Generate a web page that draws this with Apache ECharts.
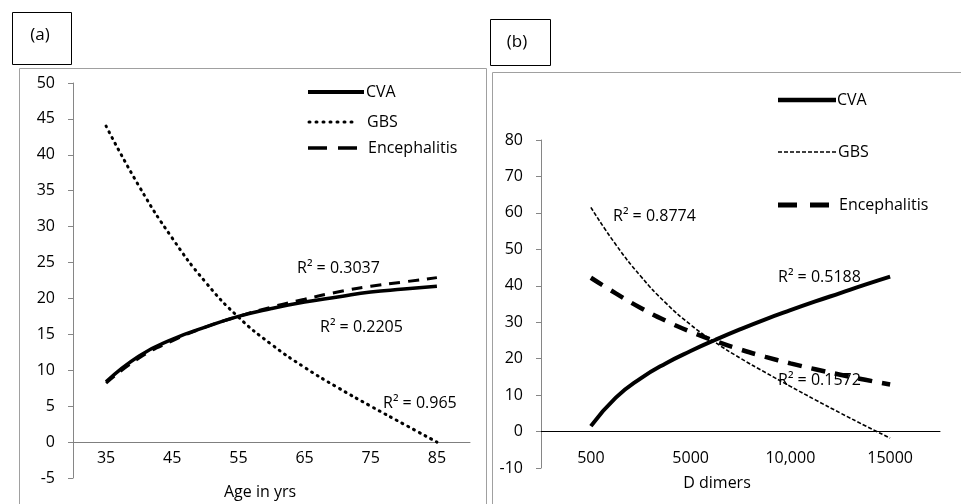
<!DOCTYPE html>
<html>
<head>
<meta charset="utf-8">
<script src="https://cdn.jsdelivr.net/npm/echarts@6/dist/echarts.min.js"></script>
<style>
html, body { margin:0; padding:0; background:#fff; }
#chartA { position:absolute; left:0; top:0; width:490px; height:504px; }
#chartB { position:absolute; left:480px; top:0; width:481px; height:504px; }
</style>
</head>
<body>
<div id="chartA"></div>
<div id="chartB"></div>
<script>
// panel (a): age
var ageLabels = ['35', '45', '55', '65', '75', '85'];
var ageX   = [35, 40, 45, 50, 55, 60, 65, 70, 75, 80, 85];
var cvaAge = [8.4, 12.0, 14.3, 16.0, 17.5, 18.6, 19.5, 20.2, 20.9, 21.3, 21.7];
var gbsAge = [44.0, 35.6, 28.4, 22.3, 17.4, 13.6, 10.4, 7.6, 5.0, 2.5, 0];
var encAge = [8.2, 11.7, 14.1, 16.0, 17.5, 18.8, 19.9, 20.9, 21.7, 22.3, 22.9];
var r2Age  = ['R\u00b2 = 0.3037', 'R\u00b2 = 0.2205', 'R\u00b2 = 0.965'];

// panel (b): D dimers (x = category position)
var ddLabels = ['500', '5000', '10,000', '15000'];
var ddX   = [1, 1.25, 1.5, 1.75, 2, 2.25, 2.5, 2.75, 3, 3.25, 3.5, 3.75, 4];
var cvaDD = [1.5, 9.3, 14.6, 18.7, 22.1, 25.2, 28.1, 30.8, 33.3, 35.7, 38.0, 40.3, 42.5];
var gbsDD = [61.5, 51.3, 42.6, 35.3, 29.3, 24.4, 20.1, 16.2, 12.4, 8.7, 5.1, 1.6, -1.8];
var encDD = [42.2, 37.9, 33.9, 30.4, 27.4, 24.8, 22.5, 20.5, 18.7, 17.1, 15.6, 14.2, 12.9];
var r2DD  = ['R\u00b2 = 0.8774', 'R\u00b2 = 0.5188', 'R\u00b2 = 0.1572'];

var names = ['CVA', 'GBS', 'Encephalitis'];
var FONT = '"Open Sans", "Liberation Sans", sans-serif';

// line styles per panel
var styleA = [
    { width: 3.5, type: 'solid' },
    { width: 3, type: [1, 5.5], cap: 'round' },
    { width: 3, type: [11, 8] }
];
var styleB = [
    { width: 4, type: 'solid' },
    { width: 1.6, type: [4, 2] },
    { width: 4.5, type: [14, 10] }
];

function pairs(xs, ys) {
    return xs.map(function (x, i) { return [x, ys[i]]; });
}

function curve(name, xs, ys, style) {
    return {
        name: name, type: 'line', xAxisIndex: 1, yAxisIndex: 0,
        data: pairs(xs, ys), symbol: 'none', smooth: true, silent: true,
        itemStyle: { color: '#000' },
        lineStyle: Object.assign({ color: '#000' }, style)
    };
}

function txt(x, y, text, size, align) {
    return {
        type: 'text', x: x, y: y, z: 10,
        style: { text: text, fill: '#000', fontSize: size || 16, fontFamily: FONT,
                 align: align || 'left', verticalAlign: 'middle' }
    };
}

// legend swatch drawn by hand (the built-in legend thins the lines)
function swatch(x1, x2, y, width, dash, cap) {
    return {
        type: 'line', z: 10,
        shape: { x1: x1, y1: y, x2: x2, y2: y },
        style: { stroke: '#000', lineWidth: width, lineDash: dash || null, lineCap: cap || 'butt' }
    };
}

var chartA = echarts.init(document.getElementById('chartA'));
chartA.setOption({
    animation: false,
    grid: { left: 73, top: 83, width: 397, height: 395 },
    xAxis: [{
        type: 'category', data: ageLabels, boundaryGap: true, position: 'bottom',
        offset: -395 * 5 / 55,   // x axis sits on y = 0
        axisLine: { onZero: false, lineStyle: { color: '#7f7f7f' } },
        axisTick: { length: 5, lineStyle: { color: '#7f7f7f' } },
        axisLabel: { margin: 8, color: '#000', fontSize: 16, fontFamily: FONT }
    }, {
        type: 'value', min: 30, max: 90, show: false,
        axisLine: { onZero: false }
    }],
    yAxis: {
        type: 'value', min: -5, max: 50, interval: 5,
        splitLine: { show: false },
        axisLine: { show: true, onZero: false, lineStyle: { color: '#868686' } },
        axisTick: { show: true, length: 5, lineStyle: { color: '#868686' } },
        axisLabel: { margin: 18, color: '#000', fontSize: 16, fontFamily: FONT }
    },
    series: [
        curve(names[0], ageX, cvaAge, styleA[0]),
        curve(names[1], ageX, gbsAge, styleA[1]),
        curve(names[2], ageX, encAge, styleA[2])
    ],
    graphic: [
        { type: 'rect', shape: { x: 19.5, y: 68.5, width: 467, height: 460 },
          style: { fill: 'none', stroke: '#a0a0a0', lineWidth: 1 } },
        { type: 'rect', shape: { x: 12.5, y: 12.5, width: 59, height: 52 },
          style: { fill: '#fff', stroke: '#000', lineWidth: 1 } },
        txt(40, 35, '(a)', 17, 'center'),
        txt(260, 492, 'Age in yrs', 16, 'center'),
        txt(297, 268, r2Age[0]),
        txt(320, 327, r2Age[1]),
        txt(383, 403, r2Age[2]),
        swatch(308, 364, 92, 4),
        txt(366, 92, names[0]),
        swatch(309, 357, 122, 3, [1, 6], 'round'),
        txt(367, 122, names[1]),
        swatch(308, 358, 148, 3.5, [19, 11]),
        txt(368, 148, names[2])
    ]
});

var chartB = echarts.init(document.getElementById('chartB'));
chartB.setOption({
    animation: false,
    grid: { left: 61, top: 140, width: 399, height: 328 },
    xAxis: [{
        type: 'category', data: ddLabels, boundaryGap: true, position: 'bottom',
        offset: -328 * 10 / 90,   // x axis sits on y = 0
        axisLine: { onZero: false, lineStyle: { color: '#000' } },
        axisTick: { length: 5, lineStyle: { color: '#000' } },
        axisLabel: { margin: 19, color: '#000', fontSize: 16, fontFamily: FONT }
    }, {
        type: 'value', min: 0.5, max: 4.5, show: false,
        axisLine: { onZero: false }
    }],
    yAxis: {
        type: 'value', min: -10, max: 80, interval: 10,
        splitLine: { show: false },
        axisLine: { show: true, onZero: false, lineStyle: { color: '#868686' } },
        axisTick: { show: true, length: 5, lineStyle: { color: '#868686' } },
        axisLabel: { margin: 18, color: '#000', fontSize: 16, fontFamily: FONT }
    },
    series: [
        curve(names[0], ddX, cvaDD, styleB[0]),
        curve(names[1], ddX, gbsDD, styleB[1]),
        curve(names[2], ddX, encDD, styleB[2])
    ],
    graphic: [
        { type: 'rect', shape: { x: 12.5, y: 72.5, width: 500, height: 460 },
          style: { fill: 'none', stroke: '#a0a0a0', lineWidth: 1 } },
        { type: 'rect', shape: { x: 10.5, y: 19.5, width: 60, height: 46 },
          style: { fill: '#fff', stroke: '#000', lineWidth: 1 } },
        txt(37, 42, '(b)', 17, 'center'),
        txt(237, 483, 'D dimers', 16, 'center'),
        txt(133, 216, r2DD[0]),
        txt(298, 277, r2DD[1]),
        txt(298, 380, r2DD[2]),
        swatch(298, 356, 100, 4.5),
        txt(357, 100, names[0]),
        swatch(298, 357, 152, 1.6, [4, 2]),
        txt(358, 152, names[1]),
        swatch(298, 350, 205, 5, [19, 13]),
        txt(359, 205, names[2])
    ]
});
</script>
</body>
</html>
